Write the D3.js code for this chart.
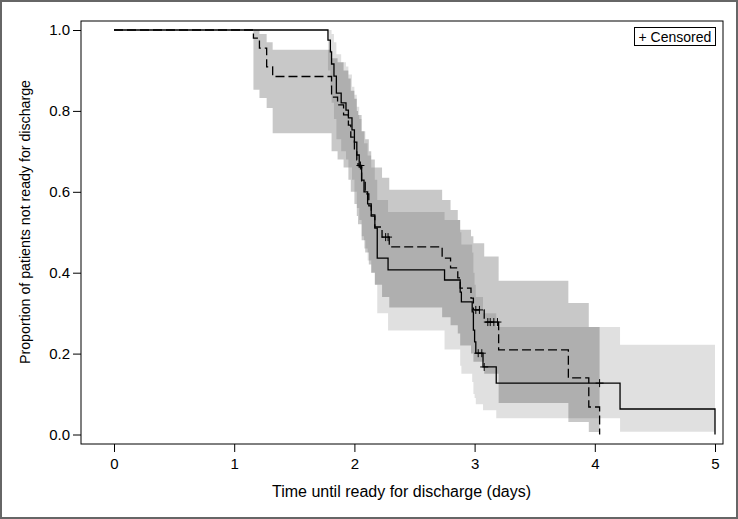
<!DOCTYPE html>
<html>
<head>
<meta charset="utf-8">
<script src="https://cdn.jsdelivr.net/npm/d3@7"></script>
<style>
body { margin: 0; background: #fff; }
svg { display: block; font-family: Arial, "Liberation Sans", sans-serif; }
</style>
</head>
<body>
<script>
// group 1 (solid line): event times, survival estimate, confidence limits
var solidTime  = [0, 1.78, 1.80, 1.81, 1.83, 1.85, 1.89, 1.93, 1.95, 1.98, 2.00, 2.02, 2.04, 2.06, 2.08, 2.11, 2.14, 2.17, 2.19, 2.28, 2.75, 2.88, 2.89, 2.98, 2.99, 3.00, 3.01, 3.07, 3.18, 4.21, 5.00];
var solidSurv  = [1, 0.975, 0.946, 0.916, 0.886, 0.844, 0.820, 0.802, 0.783, 0.753, 0.723, 0.691, 0.661, 0.629, 0.600, 0.570, 0.540, 0.510, 0.436, 0.407, 0.382, 0.352, 0.328, 0.303, 0.258, 0.229, 0.201, 0.167, 0.127, 0.063, 0];
var solidLower = [1, 0.90, 0.86, 0.82, 0.78, 0.73, 0.70, 0.68, 0.66, 0.63, 0.60, 0.56, 0.53, 0.49, 0.46, 0.43, 0.40, 0.37, 0.30, 0.257, 0.21, 0.17, 0.15, 0.13, 0.10, 0.09, 0.075, 0.06, 0.04, 0.007];
var solidUpper = [1, 1.00, 1.00, 0.99, 0.97, 0.94, 0.92, 0.91, 0.89, 0.86, 0.84, 0.81, 0.78, 0.75, 0.72, 0.69, 0.66, 0.63, 0.58, 0.55, 0.53, 0.50, 0.47, 0.45, 0.40, 0.37, 0.34, 0.30, 0.266, 0.222];
var solidCensor = [3.03, 3.06, 3.08, 4.04];

// group 2 (dashed line)
var dashTime  = [0, 1.16, 1.21, 1.27, 1.32, 1.81, 1.86, 1.91, 1.95, 1.97, 2.00, 2.02, 2.03, 2.06, 2.09, 2.12, 2.14, 2.17, 2.23, 2.29, 2.73, 2.80, 2.86, 2.88, 2.97, 2.99, 3.08, 3.20, 3.78, 3.95, 4.04];
var dashSurv  = [1, 0.980, 0.955, 0.909, 0.885, 0.834, 0.815, 0.790, 0.765, 0.735, 0.703, 0.679, 0.665, 0.625, 0.595, 0.565, 0.543, 0.513, 0.488, 0.464, 0.436, 0.412, 0.387, 0.362, 0.337, 0.308, 0.278, 0.209, 0.140, 0.068, 0];
var dashLower = [1, 0.852, 0.832, 0.807, 0.745, 0.70, 0.68, 0.66, 0.63, 0.60, 0.57, 0.54, 0.52, 0.48, 0.45, 0.42, 0.40, 0.37, 0.34, 0.314, 0.29, 0.27, 0.25, 0.22, 0.20, 0.18, 0.15, 0.078, 0.031, 0.006];
var dashUpper = [1, 1.00, 0.99, 0.97, 0.951, 0.93, 0.92, 0.90, 0.88, 0.85, 0.83, 0.80, 0.79, 0.75, 0.73, 0.70, 0.68, 0.66, 0.635, 0.605, 0.58, 0.555, 0.53, 0.506, 0.49, 0.473, 0.44, 0.38, 0.325, 0.266];
var dashCensor = [2.05, 2.26, 2.28, 3.01, 3.04, 3.11, 3.13, 3.16, 3.19];

var xTicks = [0, 1, 2, 3, 4, 5];
var yTicks = [0, 0.2, 0.4, 0.6, 0.8, 1.0];

var width = 738,
    height = 519,
    frame = {left: 81, top: 21, right: 723, bottom: 444};

var x = d3.scaleLinear().domain([0, 5]).range([114, 715]);
var y = d3.scaleLinear().domain([0, 1]).range([434.5, 30]);

var svg = d3.select("body").append("svg")
    .attr("width", width)
    .attr("height", height);

// outer border
svg.append("rect")
    .attr("x", 1).attr("y", 1)
    .attr("width", width - 2).attr("height", height - 2)
    .attr("fill", "none")
    .attr("stroke", "#666")
    .attr("stroke-width", 2);

function curveData(time, surv) {
  return time.map(function(t, i) { return {t: t, s: surv[i]}; });
}

function bandData(time, lower, upper) {
  var d = lower.map(function(lo, i) { return {t: time[i], lo: Math.max(0, lo), hi: upper[i]}; });
  // close the last step at the final time
  var last = d[d.length - 1];
  d.push({t: time[time.length - 1], lo: last.lo, hi: last.hi});
  return d;
}

var area = d3.area()
    .curve(d3.curveStepAfter)
    .x(function(d) { return x(d.t); })
    .y0(function(d) { return y(d.lo); })
    .y1(function(d) { return y(d.hi); });

var line = d3.line()
    .curve(d3.curveStepAfter)
    .x(function(d) { return x(d.t); })
    .y(function(d) { return y(d.s); });

svg.append("path")
    .datum(bandData(solidTime, solidLower, solidUpper))
    .attr("d", area)
    .attr("fill", "#000")
    .attr("fill-opacity", 0.12);

svg.append("path")
    .datum(bandData(dashTime, dashLower, dashUpper))
    .attr("d", area)
    .attr("fill", "#000")
    .attr("fill-opacity", 0.215);

svg.append("path")
    .datum(curveData(solidTime, solidSurv))
    .attr("d", line)
    .attr("fill", "none")
    .attr("stroke", "#000")
    .attr("stroke-width", 1.3);

svg.append("path")
    .datum(curveData(dashTime, dashSurv))
    .attr("d", line)
    .attr("fill", "none")
    .attr("stroke", "#000")
    .attr("stroke-width", 1.3)
    .attr("stroke-dasharray", "9,4");

// censor marks sit on the curve value at that time
function survAt(time, surv, t) {
  return surv[d3.bisectRight(time, t) - 1];
}

function censorMarks(times, time, surv) {
  svg.append("g").selectAll("path")
      .data(times)
      .enter().append("path")
      .attr("d", function(t) {
        var cx = x(t), cy = y(survAt(time, surv, t));
        return "M" + (cx - 4) + "," + cy + "H" + (cx + 4) + "M" + cx + "," + (cy - 4) + "V" + (cy + 4);
      })
      .attr("stroke", "#000")
      .attr("stroke-width", 1)
      .attr("fill", "none");
}
censorMarks(solidCensor, solidTime, solidSurv);
censorMarks(dashCensor, dashTime, dashSurv);

// plot frame
svg.append("rect")
    .attr("x", frame.left).attr("y", frame.top)
    .attr("width", frame.right - frame.left)
    .attr("height", frame.bottom - frame.top)
    .attr("fill", "none")
    .attr("stroke", "#000")
    .attr("stroke-width", 1);

var xAxis = svg.append("g")
    .attr("transform", "translate(0," + frame.bottom + ")")
    .call(d3.axisBottom(x).tickValues(xTicks).tickFormat(d3.format("d")).tickSize(8).tickPadding(6));

var yAxis = svg.append("g")
    .attr("transform", "translate(" + frame.left + ",0)")
    .call(d3.axisLeft(y).tickValues(yTicks).tickFormat(d3.format(".1f")).tickSize(8).tickPadding(3));

[xAxis, yAxis].forEach(function(a) {
  a.select(".domain").remove();
  a.selectAll("text").attr("font-size", 15).attr("font-family", "Arial, 'Liberation Sans', sans-serif").attr("fill", "#000");
  a.selectAll("line").attr("stroke", "#000");
});

svg.append("text")
    .attr("x", (frame.left + frame.right) / 2 - 0.5)
    .attr("y", 497)
    .attr("text-anchor", "middle")
    .attr("font-size", 16)
    .text("Time until ready for discharge (days)");

svg.append("text")
    .attr("transform", "translate(30,222)rotate(-90)")
    .attr("text-anchor", "middle")
    .attr("font-size", 14.2)
    .text("Proportion of patients not ready for discharge");

// legend
svg.append("rect")
    .attr("x", 634.5).attr("y", 27.5)
    .attr("width", 81).attr("height", 18)
    .attr("fill", "#fff")
    .attr("stroke", "#000")
    .attr("stroke-width", 1);

svg.append("text")
    .attr("x", 638.5)
    .attr("y", 41.5)
    .attr("font-size", 14)
    .text("+ Censored");
</script>
</body>
</html>
